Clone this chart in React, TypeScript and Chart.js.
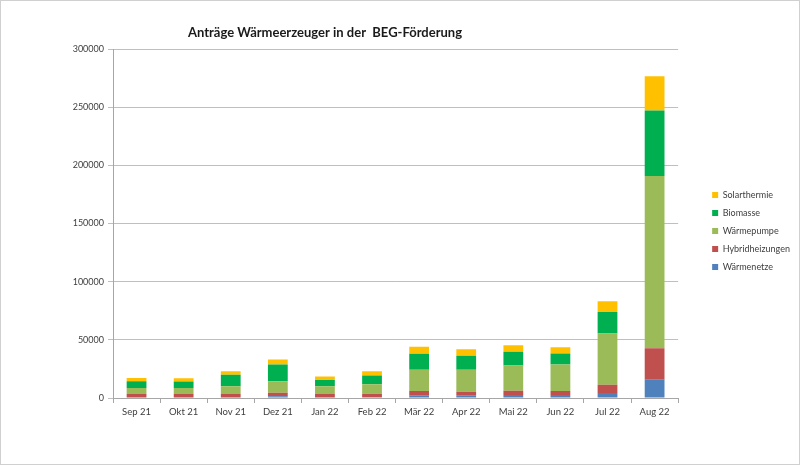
import React, { useEffect, useRef } from "react";
import { Chart, registerables } from "chart.js";

Chart.register(...registerables);

const months = ["Sep 21", "Okt 21", "Nov 21", "Dez 21", "Jan 22", "Feb 22", "Mär 22", "Apr 22", "Mai 22", "Jun 22", "Jul 22", "Aug 22"];
const waermenetze = [500, 500, 500, 1400, 500, 600, 2300, 2300, 2600, 2600, 4300, 15700];
const hybridheizungen = [3000, 3000, 3000, 3100, 3000, 3000, 3700, 3100, 3700, 3400, 7100, 27100];
const waermepumpe = [5000, 5000, 6500, 10000, 6600, 8300, 18300, 18900, 21700, 22900, 44000, 148000];
const biomasse = [5800, 5600, 10000, 14300, 5400, 7400, 13700, 12000, 11700, 9400, 18600, 56300];
const solarthermie = [2900, 2900, 3100, 4300, 2900, 3700, 6000, 5700, 5700, 5400, 9100, 29400];
const yTicks = [0, 50000, 100000, 150000, 200000, 250000, 300000];
const title = "Anträge Wärmeerzeuger in der  BEG-Förderung";

const FONT = "Lato, 'Open Sans', sans-serif";

export default function App() {
  const ref = useRef<HTMLCanvasElement | null>(null);

  useEffect(() => {
    document.body.style.margin = "0";
    if (!ref.current) return;
    const framePlugin = {
      id: "frame",
      afterLayout(chart: any) {
        const l = chart.legend;
        if (l) {
          l.top -= 5;
          l.bottom -= 5;
        }
      },
      beforeDraw(chart: any) {
        const { ctx, width, height } = chart;
        ctx.save();
        ctx.fillStyle = "#ffffff";
        ctx.fillRect(0, 0, width, height);
        ctx.strokeStyle = "#d0d0d0";
        ctx.lineWidth = 1;
        ctx.strokeRect(0.5, 0.5, width - 1, height - 1);
        ctx.restore();
      },
      afterDraw(chart: any) {
        const { ctx } = chart;
        ctx.save();
        ctx.font = `bold 13px ${FONT}`;
        ctx.fillStyle = "#1a1a1a";
        ctx.textAlign = "center";
        ctx.textBaseline = "middle";
        ctx.fillText(title, 325, 33);
        ctx.restore();
      },
    };

    const chart = new Chart(ref.current, {
      type: "bar",
      data: {
        labels: months,
        datasets: [
          { label: "Wärmenetze", data: waermenetze, backgroundColor: "#4F81BD" },
          { label: "Hybridheizungen", data: hybridheizungen, backgroundColor: "#C0504D" },
          { label: "Wärmepumpe", data: waermepumpe, backgroundColor: "#9BBB59" },
          { label: "Biomasse", data: biomasse, backgroundColor: "#00B050" },
          { label: "Solarthermie", data: solarthermie, backgroundColor: "#FFC000" },
        ],
      },
      options: {
        responsive: false,
        animation: false,
        layout: { padding: { top: 49, left: 10, right: 0, bottom: 42 } },
        datasets: { bar: { barPercentage: 0.42, categoryPercentage: 1 } } as any,
        plugins: {
          title: { display: false },
          tooltip: { enabled: false },
          legend: {
            position: "right",
            align: "center",
            reverse: true,
            labels: {
              boxWidth: 6,
              boxHeight: 6,
              padding: 9,
              color: "#404040",
              font: { family: FONT, size: 9 },
            },
          },
        },
        scales: {
          x: {
            stacked: true,
            grid: { display: true, drawOnChartArea: false, offset: true, tickLength: 5, color: "#a6a6a6" },
            border: { color: "#a6a6a6" },
            ticks: { color: "#404040", font: { family: FONT, size: 9.5 }, padding: 3, maxRotation: 0 },
            afterFit: (s: any) => { s.height = 25; },
          },
          y: {
            stacked: true,
            min: 0,
            max: 300000,
            afterBuildTicks: (s: any) => { s.ticks = yTicks.map((v) => ({ value: v })); },
            grid: { color: "#bfbfbf", tickLength: 5 },
            border: { color: "#a6a6a6" },
            ticks: {
              color: "#404040",
              font: { family: FONT, size: 9 },
              padding: 4,
              callback: (v: any) => String(v),
            },
            afterFit: (s: any) => { s.width = 103; },
          },
          y2: {
            type: "linear",
            position: "right",
            display: true,
            grid: { display: false },
            border: { display: false },
            ticks: { display: false },
            afterFit: (s: any) => { s.width = 25; },
          },
        },
      },
      plugins: [framePlugin],
    });
    return () => chart.destroy();
  }, []);

  return (
    <div style={{ width: 800, height: 465 }}>
      <canvas ref={ref} width={800} height={465} style={{ display: "block" }} />
    </div>
  );
}
